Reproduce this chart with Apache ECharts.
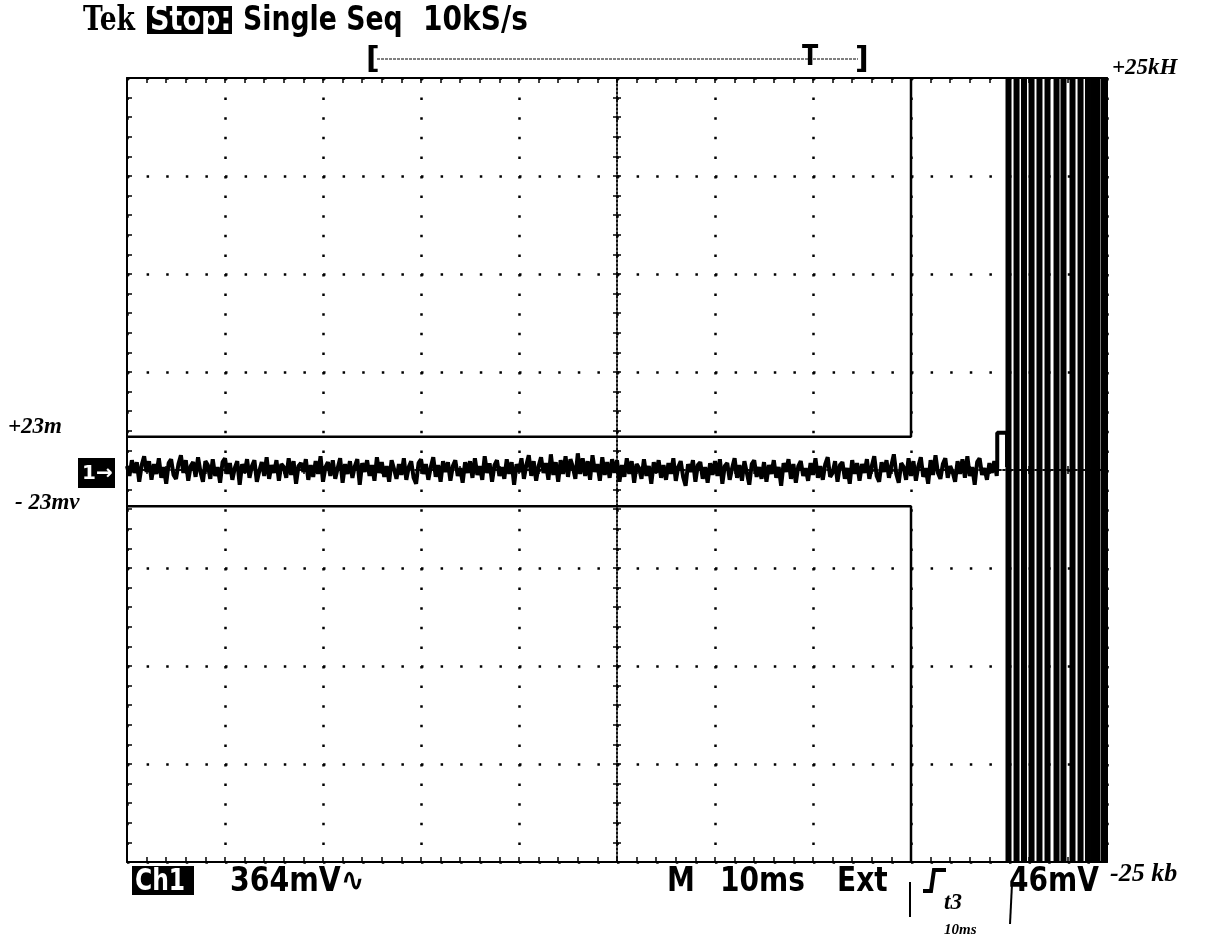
<!DOCTYPE html>
<html>
<head>
<meta charset="utf-8">
<style>
html, body { margin: 0; padding: 0; background: #fff; }
#scope { width: 1217px; height: 944px; }
</style>
</head>
<body>
<div id="scope"></div>
<script src="https://cdn.jsdelivr.net/npm/echarts@6/dist/echarts.min.js"></script>
<script>
// time axis in ms (10 ms/div), amplitude in screen divisions
const timeMin = 0
const timeMax = 100
const timeDiv = 10
const ampMin = -4
const ampMax = 4

// ch1 noise, one sample every 0.25 ms (units: 0.01 div)
const noiseStepMs = 0.25
const noise = [
  4, -6, 10, -3, 8, -12, 5, 14, -2, 9, -10, 6, -4, 12, -8, 3, -14, 7, 11, -5,
  -9, 6, 15, -3, 10, -11, 4, 8, -7, 13, -2, -12, 9, 5, -9, 11, -6, 3, -13, 8,
  12, -4, 7, -10, 2, 9, -15, 6, -3, 11, -8, 4, 10, -12, -1, 8, -6, 13, -9, 5,
  -3, 10, -11, 6, 3, -8, 12, -5, 9, -14, 4, 7, -2, 11, -10, 5, -7, 9, -4, 14,
  -12, 3, 8, -6, 10, -9, 2, 12, -13, 6, -4, 9, -8, 4, 11, -15, 7, -2, 10, -6,
  5, -11, 13, -3, 8, -7, 4, -12, 10, 1, -9, 6, -5, 12, -10, 3, 9, -8, -14, 7,
  11, -4, 6, -10, 3, 13, -7, 5, -12, 9, -2, 8, -11, 4, 10, -6, 2, -13, 8, -3,
  9, -8, 12, -5, 4, -10, 14, -3, 7, -12, 5, 10, -6, 3, -9, 11, -4, 8, -15, 6,
  -2, 12, -9, 5, 15, -6, 9, -11, 4, 13, -3, 7, -10, 16, -5, 8, -12, 10, -4, 14,
  -7, 11, 3, -9, 17, -4, 12, -6, 9, -10, 15, -2, 6, -11, 13, -5, 8, -8, 11, -3,
  10, -12, 5, -7, 12, -4, 9, -13, 6, 2, -9, 11, -6, 4, -14, 8, -3, 10, -8, 5,
  -10, 7, -4, 12, -11, 3, 9, -7, -16, 6, -2, 10, -12, 5, 8, -9, 3, -13, 7, -5,
  9, -6, 11, -14, 4, 7, -10, 2, 12, -8, 5, -11, 9, -3, -15, 6, 10, -7, 3, -9,
  8, -12, 5, -4, 10, -8, 3, -16, 7, -2, 11, -9, 6, -13, 4, 9, -6, 2, -11, 7,
  -5, 12, -8, 4, -10, 6, 13, -7, -3, 9, -12, 5, 8, -9, 2, -14, 10, -4, 7, -11,
  6, -3, 11, -9, 4, 14, -6, -12, 8, -2, 10, -8, 5, 16, -4, -13, 7, 3, -10, 12,
  -6, 9, -11, 4, 13, -7, 2, -14, 10, -5, 15, -3, -9, 6, 12, -8, 4, -2, -12, 9,
  -4, 11, -8, 14, -6, 3, -15, 8, 12, -5, 2, -10, 7, -3, 9, -6
]

// step just before the burst
const edgeT = [88.8, 88.8, 89.8, 89.8]
const edgeV = [0.03, 0.38, 0.38, 0.03]

// full-scale burst strokes (ms)
const burstT = [89.95, 90.77, 91.53, 92.3, 93.11, 93.93, 94.85, 95.56, 96.48, 97.3, 98.06, 98.62, 98.98, 99.64]

// stored reference outline
const maskT = [0, 80, 80]
const maskUpper = [0.34, 0.34, 4]
const maskLower = [-0.37, -0.37, -4]

const chart = echarts.init(document.getElementById('scope'))

const trace = noise.map((v, i) => [i * noiseStepMs, v / 100])
  .concat(edgeT.map((t, i) => [t, edgeV[i]]))

const G = { left: 127, top: 78, width: 980, height: 784 }
const tickStyle = { color: '#000', width: 1.5 }
const dots = { show: true, lineStyle: { color: '#000', width: 2.5, type: [2.5, 17.1] } }

function scopeAxis(o) {
  return Object.assign({
    type: 'value',
    axisLine: { show: true, onZero: false, lineStyle: { color: '#000', width: 2 } },
    axisTick: { show: true, inside: true, length: 5, lineStyle: tickStyle },
    minorTick: { show: true, splitNumber: 5, length: 5, lineStyle: tickStyle },
    axisLabel: { show: false },
    splitLine: { show: false }
  }, o)
}
function centerAxis(o, inside) {
  return scopeAxis(Object.assign({
    axisLine: { show: true, onZero: true, lineStyle: { color: '#000', width: 1.5, type: [2, 2] } },
    axisTick: { show: true, inside: inside, length: 4, lineStyle: tickStyle },
    minorTick: { show: true, splitNumber: 5, length: 4, lineStyle: tickStyle }
  }, o))
}

const hand = 'italic bold 23px "Liberation Serif"'
const tekFont = 'bold 33px "DejaVu Sans"'

const option = {
  backgroundColor: '#fff',
  animation: false,
  grid: [0, 1, 2, 3].map(() => Object.assign({ containLabel: false }, G)),
  xAxis: [
    scopeAxis({ gridIndex: 0, position: 'bottom', min: timeMin, max: timeMax, interval: timeDiv, splitLine: dots }),
    scopeAxis({ gridIndex: 1, position: 'top', min: timeMin, max: timeMax, interval: timeDiv }),
    centerAxis({ gridIndex: 2, min: -50, max: 50, interval: timeDiv }, false),
    centerAxis({ gridIndex: 3, min: -50, max: 50, interval: timeDiv }, true)
  ],
  yAxis: [
    scopeAxis({ gridIndex: 0, position: 'left', min: ampMin, max: ampMax, interval: 1, splitLine: dots }),
    scopeAxis({ gridIndex: 1, position: 'right', min: ampMin, max: ampMax, interval: 1 }),
    centerAxis({ gridIndex: 2, min: ampMin, max: ampMax, interval: 1 }, false),
    centerAxis({ gridIndex: 3, min: ampMin, max: ampMax, interval: 1 }, true)
  ],
  series: [
    {
      type: 'line', xAxisIndex: 0, yAxisIndex: 0, showSymbol: false, z: 5,
      data: maskT.map((t, i) => [t, maskUpper[i]]),
      lineStyle: { color: '#000', width: 2.5 }
    },
    {
      type: 'line', xAxisIndex: 0, yAxisIndex: 0, showSymbol: false, z: 5,
      data: maskT.map((t, i) => [t, maskLower[i]]),
      lineStyle: { color: '#000', width: 2.5 }
    },
    {
      type: 'line', xAxisIndex: 0, yAxisIndex: 0, showSymbol: false, z: 6,
      data: trace,
      lineStyle: { color: '#000', width: 4, join: 'bevel' }
    },
    {
      type: 'bar', xAxisIndex: 0, yAxisIndex: 0, barWidth: 6, barGap: '-100%', z: 6,
      data: burstT.map(t => [t, ampMax]),
      itemStyle: { color: '#000' }
    },
    {
      type: 'bar', xAxisIndex: 0, yAxisIndex: 0, barWidth: 6, barGap: '-100%', z: 6,
      data: burstT.map(t => [t, ampMin]),
      itemStyle: { color: '#000' }
    }
  ],
  graphic: [
    // header
    { type: 'text', x: 83, y: 21, scaleX: 0.78, style: { text: 'Tek', font: 'bold 34px "DejaVu Serif"', fill: '#000', verticalAlign: 'middle' } },
    { type: 'rect', shape: { x: 147, y: 6, width: 85, height: 28 }, style: { fill: '#000' } },
    { type: 'text', x: 150, y: 21, scaleX: 0.82, style: { text: 'Stop:', font: tekFont, fill: '#fff', verticalAlign: 'middle' } },
    { type: 'text', x: 243, y: 21, scaleX: 0.81, style: { text: 'Single Seq', font: tekFont, fill: '#000', verticalAlign: 'middle' } },
    { type: 'text', x: 423, y: 21, scaleX: 0.85, style: { text: '10kS/s', font: tekFont, fill: '#000', verticalAlign: 'middle' } },
    // record bracket
    { type: 'text', x: 366, y: 60, style: { text: '[', font: 'bold 30px "DejaVu Sans"', fill: '#000', verticalAlign: 'middle' } },
    { type: 'text', x: 855, y: 60, style: { text: ']', font: 'bold 30px "DejaVu Sans"', fill: '#000', verticalAlign: 'middle' } },
    { type: 'line', shape: { x1: 377, y1: 59, x2: 858, y2: 59 }, style: { stroke: '#000', lineWidth: 1, lineDash: [3, 1] } },
    { type: 'text', x: 802, y: 58, scaleX: 0.85, style: { text: 'T', font: 'bold 28px "DejaVu Sans"', fill: '#000', verticalAlign: 'middle' } },
    // channel marker
    { type: 'rect', shape: { x: 78, y: 458, width: 37, height: 30 }, style: { fill: '#000' } },
    { type: 'text', x: 82, y: 474, style: { text: '1→', font: 'bold 20px "DejaVu Sans"', fill: '#fff', verticalAlign: 'middle' } },
    // footer
    { type: 'rect', shape: { x: 132, y: 866, width: 62, height: 29 }, style: { fill: '#000' } },
    { type: 'text', x: 135, y: 882, scaleX: 0.78, style: { text: 'Ch1', font: 'bold 30px "DejaVu Sans"', fill: '#fff', verticalAlign: 'middle' } },
    { type: 'text', x: 230, y: 882, scaleX: 0.86, style: { text: '364mV∿', font: tekFont, fill: '#000', verticalAlign: 'middle' } },
    { type: 'text', x: 667, y: 882, scaleX: 0.85, style: { text: 'M', font: tekFont, fill: '#000', verticalAlign: 'middle' } },
    { type: 'text', x: 720, y: 882, scaleX: 0.85, style: { text: '10ms', font: tekFont, fill: '#000', verticalAlign: 'middle' } },
    { type: 'text', x: 837, y: 882, scaleX: 0.85, style: { text: 'Ext', font: tekFont, fill: '#000', verticalAlign: 'middle' } },
    { type: 'polyline', shape: { points: [[923, 891], [931, 891], [934, 870], [946, 870]] }, style: { stroke: '#000', lineWidth: 4, fill: null } },
    { type: 'text', x: 1009, y: 882, scaleX: 0.85, style: { text: '46mV', font: tekFont, fill: '#000', verticalAlign: 'middle' } },
    // handwritten notes
    { type: 'text', x: 8, y: 427, style: { text: '+23m', font: hand, fill: '#000', verticalAlign: 'middle' } },
    { type: 'text', x: 15, y: 503, style: { text: '- 23mv', font: hand, fill: '#000', verticalAlign: 'middle' } },
    { type: 'text', x: 1112, y: 68, style: { text: '+25kH', font: hand, fill: '#000', verticalAlign: 'middle' } },
    { type: 'text', x: 1110, y: 874, style: { text: '-25 kb', font: 'italic bold 26px "Liberation Serif"', fill: '#000', verticalAlign: 'middle' } },
    { type: 'text', x: 944, y: 903, style: { text: 't3', font: hand, fill: '#000', verticalAlign: 'middle' } },
    { type: 'text', x: 944, y: 930, style: { text: '10ms', font: 'italic bold 15px "Liberation Serif"', fill: '#000', verticalAlign: 'middle' } },
    { type: 'line', shape: { x1: 910, y1: 882, x2: 910, y2: 917 }, style: { stroke: '#000', lineWidth: 2 } },
    { type: 'line', shape: { x1: 1012, y1: 884, x2: 1010, y2: 924 }, style: { stroke: '#000', lineWidth: 2 } }
  ]
}

chart.setOption(option)
window.addEventListener('resize', () => {
  chart.resize()
})
</script>
</body>
</html>
